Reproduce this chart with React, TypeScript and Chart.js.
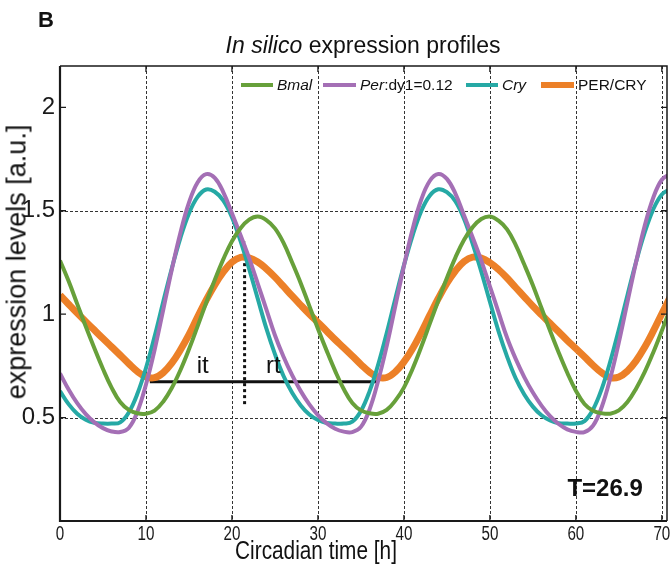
import React, { useEffect, useRef } from "react";
import { Chart, registerables } from "chart.js";

Chart.register(...registerables);

// ---- data ----
const hours = [
  0, 1, 2, 3, 4, 5, 6, 7, 8, 9, 10, 11, 12, 13, 14, 15, 16, 17, 18, 19, 20, 21, 22, 23,
  24, 25, 26, 27, 28, 29, 30, 31, 32, 33, 34, 35, 36, 37, 38, 39, 40, 41, 42, 43, 44, 45, 46, 47,
  48, 49, 50, 51, 52, 53, 54, 55, 56, 57, 58, 59, 60, 61, 62, 63, 64, 65, 66, 67, 68, 69, 70, 71,
];

const bmal = [
  1.26, 1.16, 1.05, 0.94, 0.835, 0.735, 0.645, 0.575, 0.537, 0.521,
  0.519, 0.534, 0.577, 0.643, 0.729, 0.83, 0.941, 1.055, 1.165, 1.266,
  1.353, 1.416, 1.457, 1.472, 1.455, 1.415, 1.345, 1.25, 1.15, 1.04,
  0.93, 0.825, 0.726, 0.638, 0.571, 0.535, 0.521, 0.519, 0.537, 0.582,
  0.645, 0.735, 0.84, 0.953, 1.066, 1.175, 1.275, 1.36, 1.421, 1.46,
  1.472, 1.452, 1.41, 1.335, 1.24, 1.14, 1.03, 0.92, 0.815, 0.717,
  0.63, 0.566, 0.533, 0.521, 0.519, 0.535, 0.575, 0.64, 0.72, 0.815,
  0.92, 1.03,
];

const per = [
  0.714, 0.636, 0.57, 0.517, 0.477, 0.449, 0.433, 0.43, 0.45, 0.528,
  0.66, 0.827, 1.02, 1.215, 1.393, 1.539, 1.637, 1.677, 1.659, 1.589,
  1.488, 1.382, 1.271, 1.148, 1.023, 0.898, 0.794, 0.705, 0.628, 0.564,
  0.512, 0.473, 0.446, 0.432, 0.43, 0.455, 0.539, 0.677, 0.846, 1.039,
  1.233, 1.41, 1.552, 1.644, 1.678, 1.654, 1.582, 1.477, 1.371, 1.259,
  1.135, 1.01, 0.886, 0.784, 0.696, 0.621, 0.558, 0.507, 0.469, 0.443,
  0.431, 0.43, 0.461, 0.55, 0.69, 0.864, 1.059, 1.251, 1.426, 1.563,
  1.65, 1.678,
];

const cry = [
  0.628, 0.565, 0.519, 0.49, 0.475, 0.471, 0.471, 0.477, 0.525, 0.615,
  0.74, 0.892, 1.059, 1.221, 1.368, 1.487, 1.567, 1.603, 1.592, 1.549,
  1.469, 1.353, 1.219, 1.075, 0.931, 0.807, 0.701, 0.62, 0.559, 0.515,
  0.488, 0.474, 0.471, 0.471, 0.48, 0.532, 0.627, 0.755, 0.909, 1.075,
  1.236, 1.379, 1.497, 1.573, 1.604, 1.59, 1.545, 1.46, 1.34, 1.206,
  1.06, 0.918, 0.795, 0.69, 0.612, 0.553, 0.511, 0.486, 0.473, 0.471,
  0.471, 0.483, 0.539, 0.638, 0.771, 0.926, 1.092, 1.252, 1.394, 1.507,
  1.579, 1.605,
];

const perCry = [
  1.092, 1.048, 1.005, 0.964, 0.923, 0.882, 0.842, 0.802, 0.761, 0.723,
  0.697, 0.693, 0.717, 0.763, 0.827, 0.901, 0.986, 1.068, 1.142, 1.204,
  1.252, 1.275, 1.272, 1.252, 1.219, 1.179, 1.134, 1.088, 1.044, 1.001,
  0.96, 0.919, 0.877, 0.838, 0.798, 0.757, 0.72, 0.695, 0.694, 0.721,
  0.769, 0.833, 0.91, 0.994, 1.076, 1.15, 1.21, 1.255, 1.276, 1.271,
  1.249, 1.216, 1.175, 1.129, 1.084, 1.039, 0.997, 0.956, 0.915, 0.873,
  0.834, 0.794, 0.753, 0.717, 0.693, 0.696, 0.725, 0.774, 0.84, 0.918,
  1.002, 1.084,
];

const xTicks = [0, 10, 20, 30, 40, 50, 60, 70];
const yTicks = [0.5, 1, 1.5, 2];
const xGridValues = [10, 20, 30, 40, 50, 60, 70];
const yGridValues = [0.5, 1.5];

// it / rt annotation
const itRtStart = 10.45;
const itRtEnd = 36.95;
const itRtLevel = 0.673;
const peakMarkX = 21.47;
const peakMarkFrom = 0.565;
const peakMarkTo = 1.35;
const annotationTexts = ["it", "rt"];
const annotationX = [16.6, 24.8];
const annotationY = [0.75, 0.75];
const periodText = "T=26.9";
const periodX = 63.4;
const periodY = 0.153;

const COLORS = {
  bmal: "#67A03A",
  per: "#A46FB5",
  cry: "#26A9A5",
  perCry: "#EC8028",
};

const SANS = "'Liberation Sans', Arial, Helvetica, sans-serif";

const toPoints = (ys: number[]) => hours.map((h, i) => ({ x: h, y: ys[i] }));

const framePlugin = {
  id: "frameAndNotes",
  beforeDatasetsDraw(chart: any) {
    const { ctx, chartArea: a, scales } = chart;
    const x = scales.x;
    const y = scales.y;
    ctx.save();
    ctx.strokeStyle = "#333";
    ctx.lineWidth = 1;
    ctx.setLineDash([3, 2]);
    xGridValues.forEach((v) => {
      const px = Math.round(x.getPixelForValue(v)) + 0.5;
      ctx.beginPath();
      ctx.moveTo(px, a.top);
      ctx.lineTo(px, a.bottom);
      ctx.stroke();
    });
    yGridValues.forEach((v) => {
      const py = Math.round(y.getPixelForValue(v)) + 0.5;
      ctx.beginPath();
      ctx.moveTo(a.left, py);
      ctx.lineTo(a.right, py);
      ctx.stroke();
    });
    ctx.restore();
  },
  afterDatasetsDraw(chart: any) {
    const { ctx, chartArea: a, scales } = chart;
    const x = scales.x;
    const y = scales.y;
    ctx.save();
    ctx.setLineDash([]);
    ctx.strokeStyle = "#1a1a1a";
    // frame
    ctx.lineWidth = 1.5;
    ctx.beginPath();
    ctx.moveTo(a.left, a.top);
    ctx.lineTo(a.right, a.top);
    ctx.lineTo(a.right, a.bottom);
    ctx.stroke();
    ctx.lineWidth = 2.2;
    ctx.beginPath();
    ctx.moveTo(a.left, a.top);
    ctx.lineTo(a.left, a.bottom);
    ctx.lineTo(a.right, a.bottom);
    ctx.stroke();
    // inward ticks
    ctx.lineWidth = 1.3;
    const tl = 6;
    xTicks.forEach((v) => {
      const px = x.getPixelForValue(v);
      if (px - a.left < 2) return;
      ctx.beginPath();
      ctx.moveTo(px, a.bottom);
      ctx.lineTo(px, a.bottom - tl);
      ctx.moveTo(px, a.top);
      ctx.lineTo(px, a.top + tl);
      ctx.stroke();
    });
    yTicks.forEach((v) => {
      const py = y.getPixelForValue(v);
      ctx.beginPath();
      ctx.moveTo(a.left, py);
      ctx.lineTo(a.left + tl, py);
      ctx.moveTo(a.right, py);
      ctx.lineTo(a.right - tl, py);
      ctx.stroke();
    });
    // condensed x tick labels (drawn through the x scale)
    ctx.fillStyle = "#1a1a1a";
    ctx.textAlign = "center";
    ctx.textBaseline = "top";
    ctx.font = `20px ${SANS}`;
    xTicks.forEach((v) => {
      const px = x.getPixelForValue(v);
      ctx.save();
      ctx.translate(px, a.bottom + 3);
      ctx.scale(0.76, 1);
      ctx.fillText(String(v), 0, 0);
      ctx.restore();
    });
    // annotation texts
    ctx.fillStyle = "#111";
    ctx.textAlign = "center";
    ctx.textBaseline = "middle";
    ctx.font = `24px ${SANS}`;
    annotationTexts.forEach((t, i) => {
      ctx.fillText(t, x.getPixelForValue(annotationX[i]), y.getPixelForValue(annotationY[i]));
    });
    ctx.font = `bold 24px ${SANS}`;
    ctx.fillText(periodText, x.getPixelForValue(periodX), y.getPixelForValue(periodY));
    ctx.restore();
  },
};

const legendItems = [
  { color: COLORS.bmal, lineX: 241, lineW: 32, thick: 4, textX: 277, parts: [{ t: "Bmal", i: true }] },
  { color: COLORS.per, lineX: 323, lineW: 33, thick: 4, textX: 360, parts: [{ t: "Per", i: true }, { t: ":dy1=0.12", i: false }] },
  { color: COLORS.cry, lineX: 466, lineW: 32, thick: 4, textX: 502, parts: [{ t: "Cry", i: true }] },
  { color: COLORS.perCry, lineX: 541, lineW: 33, thick: 5.5, textX: 578, parts: [{ t: "PER/CRY", i: false }] },
];

export default function App() {
  const canvasRef = useRef<HTMLCanvasElement | null>(null);

  useEffect(() => {
    const canvas = canvasRef.current;
    if (!canvas) return;
    const chart = new Chart(canvas, {
      type: "line",
      data: {
        datasets: [
          { label: "Bmal", data: toPoints(bmal), borderColor: COLORS.bmal, borderWidth: 4 },
          { label: "Per:dy1=0.12", data: toPoints(per), borderColor: COLORS.per, borderWidth: 4 },
          { label: "Cry", data: toPoints(cry), borderColor: COLORS.cry, borderWidth: 4 },
          { label: "PER/CRY", data: toPoints(perCry), borderColor: COLORS.perCry, borderWidth: 7 },
          {
            label: "it-rt",
            data: [
              { x: itRtStart, y: itRtLevel },
              { x: itRtEnd, y: itRtLevel },
            ],
            borderColor: "#111",
            borderWidth: 3,
            tension: 0,
          },
          {
            label: "peak",
            data: [
              { x: peakMarkX, y: peakMarkFrom },
              { x: peakMarkX, y: peakMarkTo },
            ],
            borderColor: "#111",
            borderWidth: 3,
            borderDash: [3, 3],
            tension: 0,
          },
        ] as any,
      },
      options: {
        animation: false,
        responsive: false,
        maintainAspectRatio: false,
        layout: { padding: { top: 66, right: 4, left: 0, bottom: 0 } },
        elements: {
          point: { radius: 0, hoverRadius: 0 },
          line: { tension: 0.4, fill: false, borderCapStyle: "butt" },
        },
        datasets: { line: { clip: 0 } as any },
        plugins: {
          legend: { display: false },
          title: { display: false },
          tooltip: { enabled: false },
        },
        scales: {
          x: {
            type: "linear",
            min: 0,
            max: 70.6,
            afterFit: (s: any) => {
              s.height = 49;
            },
            afterBuildTicks: (s: any) => {
              s.ticks = xTicks.map((v) => ({ value: v }));
            },
            grid: { display: false, drawTicks: false },
            border: { display: false },
            ticks: { display: false },
          },
          y: {
            type: "linear",
            min: 0,
            max: 2.2,
            afterFit: (s: any) => {
              s.width = 60;
            },
            afterBuildTicks: (s: any) => {
              s.ticks = yTicks.map((v) => ({ value: v }));
            },
            grid: { display: false, drawTicks: false },
            border: { display: false },
            ticks: {
              padding: 5,
              color: "#1a1a1a",
              font: { family: SANS, size: 24 },
              callback: (v: any) => String(v),
            },
          },
        },
      },
      plugins: [framePlugin],
    });
    return () => chart.destroy();
  }, []);

  const textBase: React.CSSProperties = {
    position: "absolute",
    fontFamily: SANS,
    color: "#111",
    whiteSpace: "nowrap",
    lineHeight: 1,
  };

  return (
    <div style={{ position: "absolute", left: 0, top: 0, width: 671, height: 570, background: "#fff", overflow: "hidden" }}>
      <canvas ref={canvasRef} width={671} height={570} style={{ position: "absolute", left: 0, top: 0, width: 671, height: 570 }} />
      <div style={{ ...textBase, left: 38, top: 20, transform: "translateY(-50%)", fontSize: 22, fontWeight: "bold" }}>B</div>
      <div style={{ ...textBase, left: 363, top: 45, transform: "translate(-50%,-50%)", fontSize: 23 }}>
        <i>In silico</i> expression profiles
      </div>
      <div style={{ ...textBase, left: 17, top: 262, transform: "translate(-50%,-50%) rotate(-90deg)", fontSize: 27 }}>
        expression levels [a.u.]
      </div>
      <div style={{ ...textBase, left: 316, top: 550, transform: "translate(-50%,-50%) scaleX(0.8)", fontSize: 26 }}>
        Circadian time [h]
      </div>
      {legendItems.map((it, k) => (
        <React.Fragment key={k}>
          <div
            style={{
              position: "absolute",
              left: it.lineX,
              top: 85 - it.thick / 2,
              width: it.lineW,
              height: it.thick,
              background: it.color,
            }}
          />
          <div style={{ ...textBase, left: it.textX, top: 85, transform: "translateY(-50%)", fontSize: 15.5 }}>
            {it.parts.map((p, j) => (p.i ? <i key={j}>{p.t}</i> : <span key={j}>{p.t}</span>))}
          </div>
        </React.Fragment>
      ))}
    </div>
  );
}
